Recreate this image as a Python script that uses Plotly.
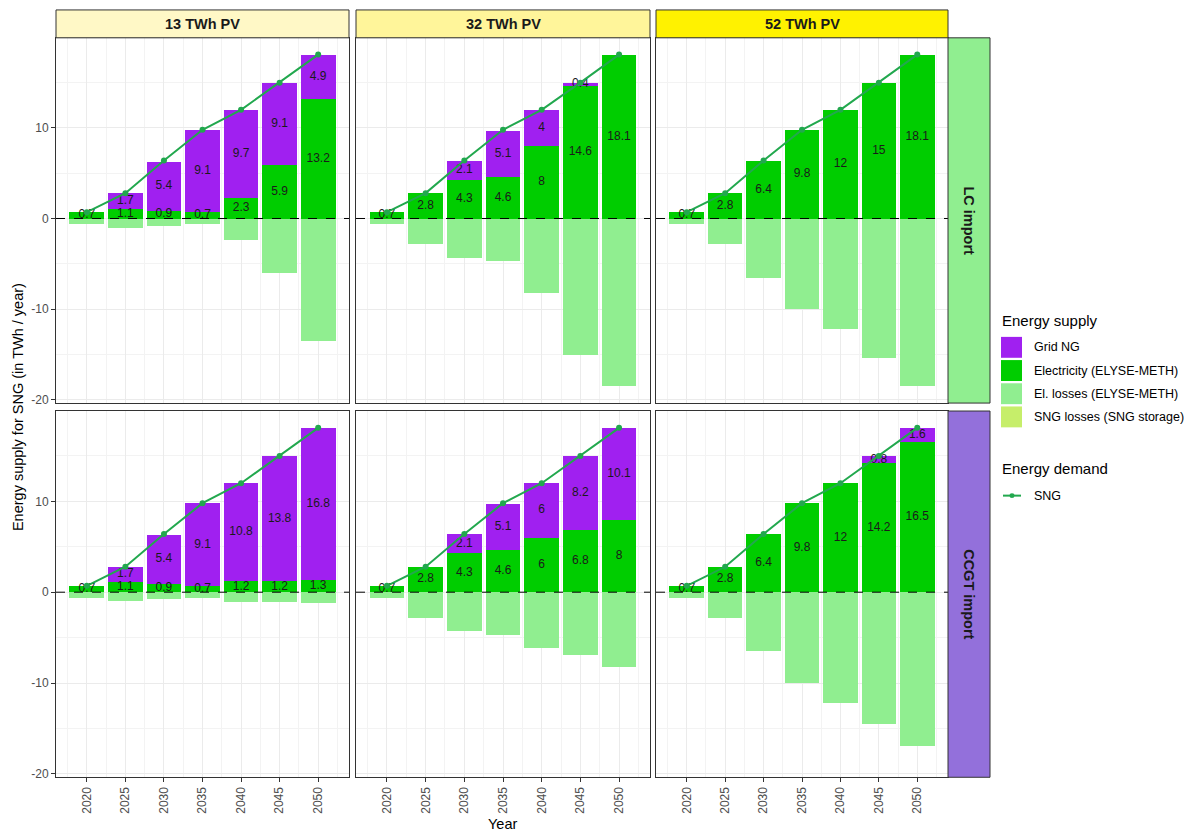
import plotly.graph_objects as go
from plotly.subplots import make_subplots

# ---- data -----------------------------------------------------------------
years = [2020, 2025, 2030, 2035, 2040, 2045, 2050]
year_labels = ["2020", "2025", "2030", "2035", "2040", "2045", "2050"]
pv_levels = ["13 TWh PV", "32 TWh PV", "52 TWh PV"]
import_cases = ["LC import", "CCGT import"]

# SNG demand (TWh / year)
sng_demand = [0.7, 2.8, 6.4, 9.8, 12.0, 15.0, 18.1]

# LC import
elec_lc_13 = [0.7, 1.1, 0.9, 0.7, 2.3, 5.9, 13.2]
grid_lc_13 = [0, 1.7, 5.4, 9.1, 9.7, 9.1, 4.9]
loss_lc_13 = [-0.6, -1.0, -0.8, -0.6, -2.4, -6.0, -13.5]

elec_lc_32 = [0.7, 2.8, 4.3, 4.6, 8, 14.6, 18.1]
grid_lc_32 = [0, 0, 2.1, 5.1, 4, 0.4, 0]
loss_lc_32 = [-0.6, -2.8, -4.3, -4.7, -8.2, -15.0, -18.5]

elec_lc_52 = [0.7, 2.8, 6.4, 9.8, 12, 15, 18.1]
grid_lc_52 = [0, 0, 0, 0, 0, 0, 0]
loss_lc_52 = [-0.6, -2.8, -6.5, -10.0, -12.2, -15.4, -18.5]

# CCGT import
elec_ccgt_13 = [0.7, 1.1, 0.9, 0.7, 1.2, 1.2, 1.3]
grid_ccgt_13 = [0, 1.7, 5.4, 9.1, 10.8, 13.8, 16.8]
loss_ccgt_13 = [-0.6, -1.0, -0.8, -0.6, -1.1, -1.1, -1.2]

elec_ccgt_32 = [0.7, 2.8, 4.3, 4.6, 6, 6.8, 8]
grid_ccgt_32 = [0, 0, 2.1, 5.1, 6, 8.2, 10.1]
loss_ccgt_32 = [-0.6, -2.8, -4.3, -4.7, -6.1, -6.9, -8.2]

elec_ccgt_52 = [0.7, 2.8, 6.4, 9.8, 12, 14.2, 16.5]
grid_ccgt_52 = [0, 0, 0, 0, 0, 0.8, 1.6]
loss_ccgt_52 = [-0.6, -2.8, -6.5, -10.0, -12.2, -14.5, -16.9]

# SNG storage losses (none in these scenarios)
sng_storage_loss = [0, 0, 0, 0, 0, 0, 0]

panels = {
    (0, 0): (elec_lc_13, grid_lc_13, loss_lc_13),
    (0, 1): (elec_lc_32, grid_lc_32, loss_lc_32),
    (0, 2): (elec_lc_52, grid_lc_52, loss_lc_52),
    (1, 0): (elec_ccgt_13, grid_ccgt_13, loss_ccgt_13),
    (1, 1): (elec_ccgt_32, grid_ccgt_32, loss_ccgt_32),
    (1, 2): (elec_ccgt_52, grid_ccgt_52, loss_ccgt_52),
}

# ---- style ----------------------------------------------------------------
W, H = 1195, 839
FONT = "Liberation Sans, Arial, sans-serif"
C_GRID = "#A020F0"
C_ELEC = "#00CD00"
C_LOSS = "#90EE90"
C_SNGLOSS = "#C6EE6A"
C_DEMAND = "#22A84E"
STRIP_TOP = ["#FFF8C6", "#FFF59A", "#FFF200"]
STRIP_RIGHT = ["#90EE90", "#9370DB"]
BORDER = "#333333"


def px_x(v):
    return v / W


def px_y(v):
    return 1 - v / H


def label(x, y, text, size=12, color="black", xanchor="center", angle=0):
    return dict(x=px_x(x), y=px_y(y), xref="paper", yref="paper", text=text,
                showarrow=False, xanchor=xanchor, yanchor="middle", textangle=angle,
                font=dict(family=FONT, size=size, color=color))


col_px = [(56, 349), (356, 650), (656, 948)]
row_px = [(38, 405), (413, 781)]

fig = make_subplots(rows=2, cols=3)

for (r, c), (elec, grid, loss) in panels.items():
    row, col = r + 1, c + 1
    fig.add_trace(go.Bar(x=years, y=elec, width=4.5, marker=dict(color=C_ELEC, line_width=0),
                         name="Electricity (ELYSE-METH)", showlegend=False), row=row, col=col)
    fig.add_trace(go.Bar(x=years, y=grid, width=4.5, marker=dict(color=C_GRID, line_width=0),
                         name="Grid NG", showlegend=False), row=row, col=col)
    fig.add_trace(go.Bar(x=years, y=loss, width=4.5, marker=dict(color=C_LOSS, line_width=0),
                         name="El. losses (ELYSE-METH)", showlegend=False), row=row, col=col)
    fig.add_trace(go.Bar(x=years, y=sng_storage_loss, width=4.5, marker=dict(color=C_SNGLOSS, line_width=0),
                         name="SNG losses (SNG storage)", showlegend=False), row=row, col=col)

    # value labels centred in each stacked segment
    lx, ly, lt = [], [], []
    for yr, e, g in zip(years, elec, grid):
        if e > 0:
            lx.append(yr); ly.append(e / 2); lt.append(f"{e:g}")
        if g > 0:
            lx.append(yr); ly.append(e + g / 2); lt.append(f"{g:g}")
    fig.add_trace(go.Scatter(x=lx, y=ly, text=lt, mode="text", showlegend=False,
                             textfont=dict(family=FONT, size=12, color="#1A1A1A"),
                             hoverinfo="skip"), row=row, col=col)

    fig.add_trace(go.Scatter(x=years, y=sng_demand, mode="lines+markers", name="SNG",
                             line=dict(color=C_DEMAND, width=2),
                             marker=dict(color=C_DEMAND, size=6), showlegend=False),
                  row=row, col=col)

fig.update_layout(barmode="relative", bargap=0)

for r in range(2):
    for c in range(3):
        idx = r * 3 + c + 1
        sfx = "" if idx == 1 else str(idx)
        x0, x1 = col_px[c]
        y0, y1 = row_px[r]
        fig.layout["xaxis" + sfx].update(
            domain=[px_x(x0), px_x(x1)], range=[2016, 2054],
            tickvals=years, ticktext=year_labels, tickangle=-90,
            showticklabels=(r == 1), ticks="outside" if r == 1 else "",
            ticklen=4, tickcolor=BORDER,
            tickfont=dict(family=FONT, size=12, color="#4D4D4D"),
            showgrid=True, gridcolor="#EBEBEB", gridwidth=1,
            minor=dict(tickvals=[2017.5 + 5 * i for i in range(8)], showgrid=True,
                       gridcolor="#F3F3F3", gridwidth=0.6, ticks=""),
            showline=True, mirror=True, linecolor=BORDER, linewidth=1,
            zeroline=False, fixedrange=True,
        )
        fig.layout["yaxis" + sfx].update(
            domain=[px_y(y1), px_y(y0)], range=[-20.38, 19.95],
            tickvals=[-20, -10, 0, 10], ticktext=["-20", "-10", "0", "10"],
            showticklabels=(c == 0), ticks="outside" if c == 0 else "",
            ticklen=4, tickcolor=BORDER,
            tickfont=dict(family=FONT, size=12, color="#4D4D4D"),
            showgrid=True, gridcolor="#EBEBEB", gridwidth=1,
            minor=dict(tickvals=[-15, -5, 5, 15], showgrid=True,
                       gridcolor="#F3F3F3", gridwidth=0.6, ticks=""),
            showline=True, mirror=True, linecolor=BORDER, linewidth=1,
            zeroline=False, fixedrange=True,
        )
        # dashed zero reference line
        fig.add_shape(type="line", xref=f"x{sfx} domain", yref=f"y{sfx}",
                      x0=0, x1=1, y0=0, y1=0, layer="above",
                      line=dict(color="black", width=1, dash="dash"))

annotations = []

# top facet strips
for c, name in enumerate(pv_levels):
    x0, x1 = col_px[c]
    fig.add_shape(type="rect", xref="paper", yref="paper",
                  x0=px_x(x0), x1=px_x(x1), y0=px_y(38), y1=px_y(10),
                  fillcolor=STRIP_TOP[c], line=dict(color=BORDER, width=1))
    annotations.append(label((x0 + x1) / 2, 24, f"<b>{name}</b>", size=14.5, color="#1A1A1A"))

# right facet strips
for r, name in enumerate(import_cases):
    y0, y1 = row_px[r]
    fig.add_shape(type="rect", xref="paper", yref="paper",
                  x0=px_x(948), x1=px_x(990), y0=px_y(y1), y1=px_y(y0),
                  fillcolor=STRIP_RIGHT[r], line=dict(color=BORDER, width=1))
    annotations.append(label(969, (y0 + y1) / 2, f"<b>{name}</b>", size=14.5,
                             color="#1A1A1A", angle=90))

# axis titles
annotations.append(label(18, 409, "Energy supply for SNG (in TWh / year)", size=14.5, angle=-90))
annotations.append(label(502, 828, "Year", size=14.5))

# legend: energy supply
legend_items = [("Grid NG", C_GRID), ("Electricity (ELYSE-METH)", C_ELEC),
                ("El. losses (ELYSE-METH)", C_LOSS), ("SNG losses (SNG storage)", C_SNGLOSS)]
annotations.append(label(1000, 322, "Energy supply", size=15, xanchor="left"))
for i, (name, color) in enumerate(legend_items):
    cy = 349 + i * 23.3
    fig.add_shape(type="rect", xref="paper", yref="paper",
                  x0=px_x(1001), x1=px_x(1022), y0=px_y(cy + 10.5), y1=px_y(cy - 10.5),
                  fillcolor=color, line=dict(width=0))
    annotations.append(label(1032, cy, name, size=12.5, xanchor="left"))

# legend: energy demand
annotations.append(label(1000, 471, "Energy demand", size=15, xanchor="left"))
fig.add_shape(type="line", xref="paper", yref="paper",
              x0=px_x(1003), x1=px_x(1021), y0=px_y(498), y1=px_y(498),
              line=dict(color=C_DEMAND, width=2))
fig.add_shape(type="circle", xref="paper", yref="paper",
              x0=px_x(1009.5), x1=px_x(1014.5), y0=px_y(500.5), y1=px_y(495.5),
              fillcolor=C_DEMAND, line=dict(width=0))
annotations.append(label(1032, 498, "SNG", size=12.5, xanchor="left"))

fig.update_layout(
    width=W, height=H,
    margin=dict(l=0, r=0, t=0, b=0),
    paper_bgcolor="white", plot_bgcolor="white",
    font=dict(family=FONT),
    showlegend=False,
    annotations=annotations,
)

fig.write_html("out.html")
